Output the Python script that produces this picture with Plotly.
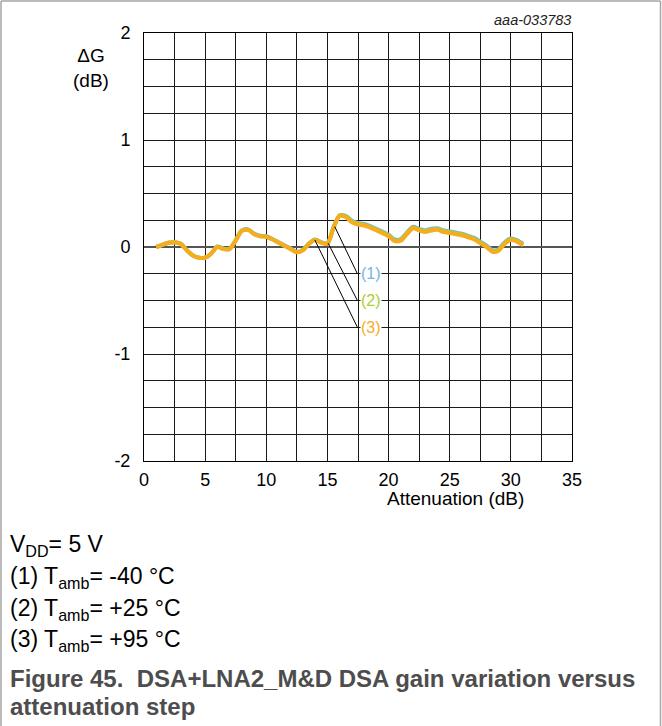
import plotly.graph_objects as go

# Attenuation steps (dB)
attenuation = [1.0, 1.5, 2.0, 2.5, 3.0, 3.5, 4.0, 4.5, 5.0, 5.5,
               6.0, 6.5, 7.0, 7.5, 8.0, 8.5, 9.0, 9.5, 10.0, 10.5,
               11.0, 11.5, 12.0, 12.5, 13.0, 13.5, 14.0, 14.5, 15.0, 15.5,
               16.0, 16.5, 17.0, 17.5, 18.0, 18.5, 19.0, 19.5, 20.0, 20.5,
               21.0, 21.5, 22.0, 22.5, 23.0, 23.5, 24.0, 24.5, 25.0, 25.5,
               26.0, 26.5, 27.0, 27.5, 28.0, 28.5, 29.0, 29.5, 30.0, 30.5, 31.0]

# Gain variation (dB) at each temperature
dg_m40 = [0.00, 0.02, 0.04, 0.045, 0.03, -0.03, -0.08, -0.10, -0.10, -0.06,
          0.005, -0.015, -0.015, 0.065, 0.155, 0.165, 0.125, 0.105, 0.10, 0.075,
          0.045, 0.015, -0.015, -0.045, -0.025, 0.035, 0.07, 0.045, 0.035, 0.185,
          0.295, 0.29, 0.245, 0.225, 0.215, 0.195, 0.17, 0.145, 0.115, 0.07,
          0.075, 0.135, 0.19, 0.17, 0.155, 0.17, 0.175, 0.155, 0.145, 0.135,
          0.125, 0.105, 0.085, 0.05, 0.015, -0.03, -0.02, 0.045, 0.08, 0.065, 0.03]
dg_p25 = [0.00, 0.02, 0.04, 0.045, 0.03, -0.03, -0.08, -0.10, -0.10, -0.06,
          0.003, -0.018, -0.018, 0.062, 0.152, 0.162, 0.122, 0.102, 0.097, 0.072,
          0.042, 0.012, -0.018, -0.048, -0.028, 0.032, 0.067, 0.042, 0.032, 0.183,
          0.297, 0.287, 0.238, 0.218, 0.207, 0.187, 0.162, 0.137, 0.107, 0.062,
          0.067, 0.127, 0.182, 0.162, 0.147, 0.162, 0.167, 0.147, 0.137, 0.127,
          0.117, 0.097, 0.077, 0.042, 0.007, -0.038, -0.028, 0.037, 0.072, 0.057, 0.022]
dg_p95 = [0.00, 0.02, 0.04, 0.045, 0.03, -0.03, -0.08, -0.10, -0.10, -0.06,
          0.00, -0.02, -0.02, 0.06, 0.15, 0.16, 0.12, 0.10, 0.095, 0.07,
          0.04, 0.01, -0.02, -0.05, -0.03, 0.03, 0.065, 0.04, 0.03, 0.18,
          0.29, 0.28, 0.23, 0.21, 0.20, 0.18, 0.155, 0.13, 0.10, 0.055,
          0.06, 0.12, 0.175, 0.155, 0.14, 0.155, 0.16, 0.14, 0.13, 0.12,
          0.11, 0.09, 0.07, 0.035, 0.00, -0.045, -0.035, 0.03, 0.065, 0.05, 0.015]

series = [("(1)", dg_m40, "#74B3E3"), ("(2)", dg_p25, "#A9CF2F"), ("(3)", dg_p95, "#F7AC1E")]

# Axis ticks
x_ticks = [0, 5, 10, 15, 20, 25, 30, 35]
x_ticktext = ["0", "5", "10", "15", "20", "25", "30", "35"]
y_ticks = [-2, -1, 0, 1, 2]
y_ticktext = ["-2", "-1", "0", "1", "2"]

# Callouts: curve point -> label position
callout_from = [(15.6, 0.19), (15.06, 0.035), (13.97, 0.066)]
callout_to_x = 17.45
label_x = 18.55
label_y = [-0.25, -0.5, -0.75]

FONT = "Liberation Sans, Arial, sans-serif"
X0, Y0, PW, PH = 144, 461, 428, 428  # plot origin and size in pixels


def px(x):
    return (x - X0) / PW


def py(y):
    return (Y0 - y) / PH


fig = go.Figure()
for name, vals, col in series:
    fig.add_trace(go.Scatter(x=attenuation, y=vals, mode="lines", name=name,
                             line=dict(color=col, width=4, shape="spline", smoothing=0.8),
                             showlegend=False))

shapes = []
for (sx, sy), ly in zip(callout_from, label_y):
    shapes.append(dict(type="line", xref="x", yref="y", x0=sx, y0=sy, x1=callout_to_x, y1=ly,
                       line=dict(color="black", width=1)))

# outer frame
frame_col = "#A6A6A6"
shapes += [
    dict(type="line", xref="paper", yref="paper", x0=px(1), x1=px(1), y0=py(1), y1=py(727),
         line=dict(color=frame_col, width=1.5)),
    dict(type="line", xref="paper", yref="paper", x0=px(660.5), x1=px(660.5), y0=py(1), y1=py(727),
         line=dict(color=frame_col, width=1.5)),
    dict(type="line", xref="paper", yref="paper", x0=px(1), x1=px(660.5), y0=py(1), y1=py(1),
         line=dict(color=frame_col, width=1.5)),
]

annotations = []
for (name, _, col), ly in zip(series, label_y):
    annotations.append(dict(x=label_x, y=ly, xref="x", yref="y", text=name, showarrow=False,
                            font=dict(family=FONT, size=16, color=col), bgcolor="white",
                            borderpad=0))

annotations += [
    dict(x=px(573), y=py(20), xref="paper", yref="paper", text="<i>aaa-033783</i>",
         showarrow=False, xanchor="right", yanchor="middle",
         font=dict(family=FONT, size=14.5, color="#222")),
    dict(x=px(91), y=py(68), xref="paper", yref="paper", text="ΔG<br>(dB)",
         showarrow=False, xanchor="center", yanchor="middle",
         font=dict(family=FONT, size=19, color="black")),
    dict(x=px(455), y=py(498), xref="paper", yref="paper", text="Attenuation (dB)",
         showarrow=False, xanchor="center", yanchor="middle",
         font=dict(family=FONT, size=19, color="black")),
]

notes = ["V<sub>DD</sub>= 5 V",
         "(1) T<sub>amb</sub>= -40 °C",
         "(2) T<sub>amb</sub>= +25 °C",
         "(3) T<sub>amb</sub>= +95 °C"]
note_y = [545, 577, 609, 640]
for t, yy in zip(notes, note_y):
    annotations.append(dict(x=px(8), y=py(yy), xref="paper", yref="paper", text=t,
                            showarrow=False, xanchor="left", yanchor="middle",
                            font=dict(family=FONT, size=23, color="black")))

caption = ["<b>Figure 45.  DSA+LNA2_M&amp;D DSA gain variation versus</b>",
           "<b>attenuation step</b>"]
for t, yy in zip(caption, [678, 706]):
    annotations.append(dict(x=px(8), y=py(yy), xref="paper", yref="paper", text=t,
                            showarrow=False, xanchor="left", yanchor="middle",
                            font=dict(family=FONT, size=24, color="#4D4D4D")))

grid_col = "#1A1A1A"
fig.update_layout(
    width=662, height=726,
    margin=dict(l=X0, r=662 - X0 - PW, t=Y0 - PH, b=726 - Y0),
    paper_bgcolor="white", plot_bgcolor="white",
    shapes=shapes, annotations=annotations,
    xaxis=dict(range=[0, 35], tickmode="array", tickvals=x_ticks, ticktext=x_ticktext,
               showgrid=True, gridcolor=grid_col, gridwidth=1,
               minor=dict(tick0=0, dtick=2.5, showgrid=True, gridcolor=grid_col, gridwidth=1),
               showline=True, linecolor="black", linewidth=1, mirror=True, zeroline=False,
               ticks="", ticklabelstandoff=2,
               tickfont=dict(family=FONT, size=18, color="black")),
    yaxis=dict(range=[-2, 2], tickmode="array", tickvals=y_ticks, ticktext=y_ticktext,
               showgrid=True, gridcolor=grid_col, gridwidth=1,
               minor=dict(tick0=0, dtick=0.25, showgrid=True, gridcolor=grid_col, gridwidth=1),
               showline=True, linecolor="black", linewidth=1, mirror=True,
               zeroline=True, zerolinecolor="#555", zerolinewidth=2,
               ticks="", ticklabelstandoff=9,
               tickfont=dict(family=FONT, size=18, color="black")),
)

fig.write_html("out.html")
